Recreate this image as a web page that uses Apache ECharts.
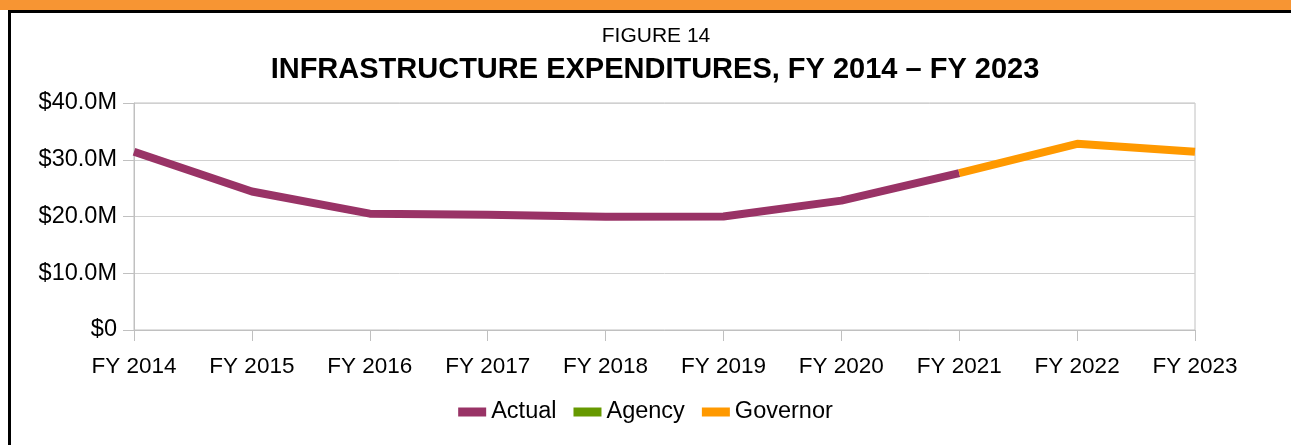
<!DOCTYPE html>
<html>
<head>
<meta charset="utf-8">
<script src="https://cdn.jsdelivr.net/npm/echarts@6/dist/echarts.min.js"></script>
<style>
    html, body { margin: 0; padding: 0; background: #fff; }
    .band { position: absolute; left: 0; top: 0; width: 1291px; height: 10px; background: #f79533; }
    .frame { position: absolute; left: 8px; top: 10px; width: 1283px; height: 435px;
             border-top: 3px solid #000; border-left: 3px solid #000; box-sizing: border-box; }
    #chart { position: absolute; left: 0; top: 0; width: 1291px; height: 445px; }
</style>
</head>
<body>
<div class="band"></div>
<div class="frame"></div>
<div id="chart"></div>
<script>
// values in $ millions
var years = ['FY 2014', 'FY 2015', 'FY 2016', 'FY 2017', 'FY 2018', 'FY 2019', 'FY 2020', 'FY 2021', 'FY 2022', 'FY 2023'];
var actual = [31.4, 24.4, 20.5, 20.3, 19.95, 20.0, 22.8, 27.65, null, null];
var agency = [null, null, null, null, null, null, null, null, null, null];
var governor = [null, null, null, null, null, null, null, 27.65, 32.8, 31.4];

var chart = echarts.init(document.getElementById('chart'));
var font = '"Liberation Sans", Arial, sans-serif';
var gridGray = '#c0c0c0';

chart.setOption({
    animation: false,
    textStyle: { fontFamily: font },
    title: [
        {
            text: 'FIGURE 14',
            left: 651, top: 21, textAlign: 'center',
            textStyle: { fontSize: 21, fontWeight: 'normal', color: '#000', fontFamily: font }
        },
        {
            text: 'INFRASTRUCTURE EXPENDITURES, FY 2014 \u2013 FY 2023',
            left: 650, top: 50, textAlign: 'center',
            textStyle: { fontSize: 29, fontWeight: 'bold', color: '#000', fontFamily: font }
        }
    ],
    legend: {
        top: 395, left: 'center',
        icon: 'rect', itemWidth: 28, itemHeight: 9, itemGap: 17,
        textStyle: { fontSize: 23.5, color: '#000', fontFamily: font },
        data: ['Actual', 'Agency', 'Governor']
    },
    grid: { left: 134, right: 96, top: 103, bottom: 115, show: true, borderColor: gridGray, borderWidth: 1 },
    xAxis: {
        type: 'category',
        boundaryGap: false,
        data: years,
        axisLine: { lineStyle: { color: gridGray } },
        axisTick: { length: 11, lineStyle: { color: gridGray } },
        axisLabel: { fontSize: 22.5, color: '#000', margin: 25, fontFamily: font }
    },
    yAxis: {
        type: 'value',
        min: 0, max: 40, interval: 10,
        axisLine: { show: true, lineStyle: { color: gridGray } },
        axisTick: { show: true, length: 11, lineStyle: { color: gridGray } },
        splitLine: { lineStyle: { color: '#d0d0d0' } },
        axisLabel: {
            fontSize: 23.5, color: '#000', margin: 17, fontFamily: font,
            formatter: function (v) { return v === 0 ? '$0' : '$' + v.toFixed(1) + 'M'; }
        }
    },
    series: [
        {
            name: 'Actual', type: 'line', data: actual,
            symbol: 'none', color: '#993366',
            lineStyle: { width: 8, color: '#993366' }
        },
        {
            name: 'Agency', type: 'line', data: agency,
            symbol: 'none', color: '#669900',
            lineStyle: { width: 8, color: '#669900' }
        },
        {
            name: 'Governor', type: 'line', data: governor,
            symbol: 'none', color: '#ff9900',
            lineStyle: { width: 8, color: '#ff9900' }
        }
    ]
});
</script>
</body>
</html>
